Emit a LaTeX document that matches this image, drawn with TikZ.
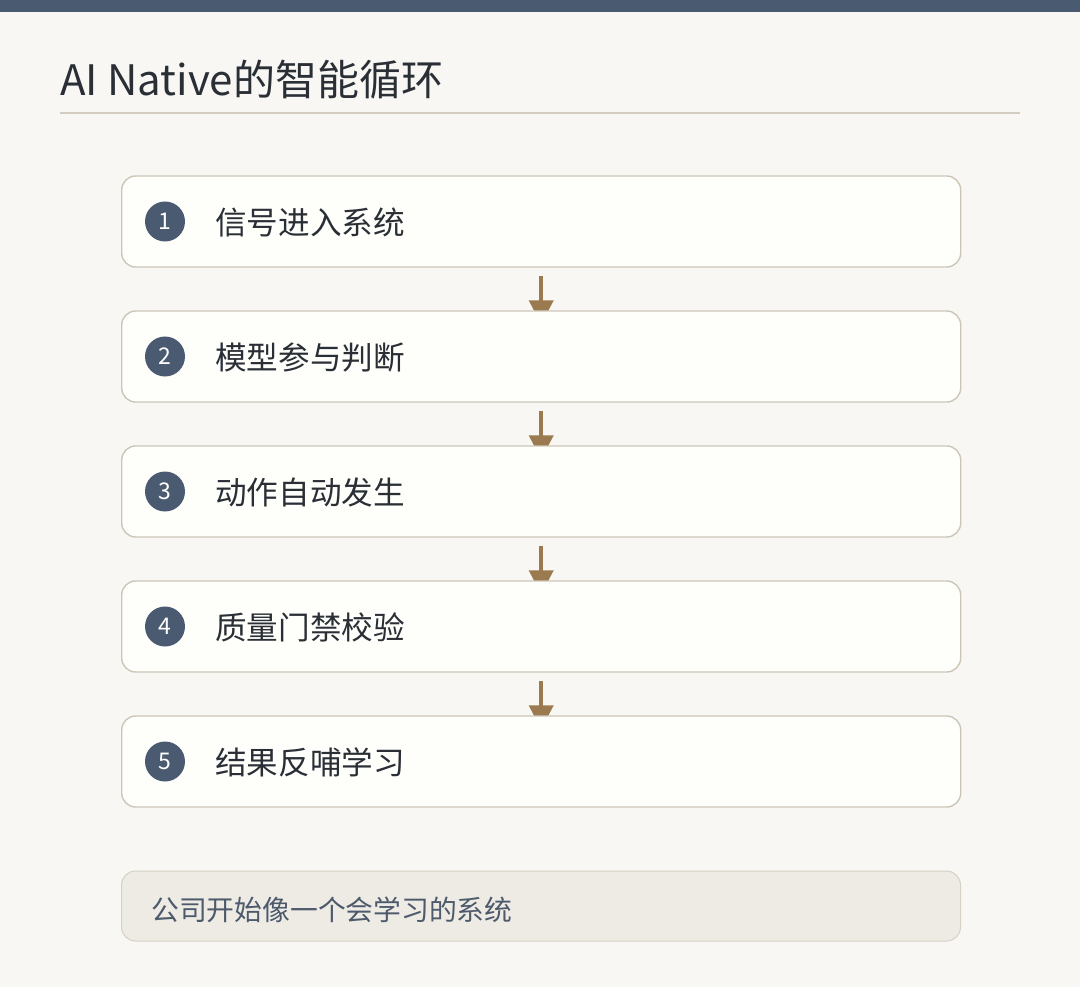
\documentclass[tikz,border=0pt]{standalone}
\usepackage{fontspec}
\setmainfont{Noto Sans CJK SC}
\usetikzlibrary{arrows.meta}
\definecolor{pagebg}{HTML}{F8F7F4}
\definecolor{slate}{HTML}{4A5A70}
\definecolor{rulec}{HTML}{D2CBBF}
\definecolor{boxfill}{HTML}{FEFEFB}
\definecolor{boxline}{HTML}{CDC6B8}
\definecolor{arrowc}{HTML}{9A7A4E}
\definecolor{textc}{HTML}{2A2F36}
\definecolor{notefill}{HTML}{EEEBE4}
\definecolor{noteline}{HTML}{D6D0C5}
\definecolor{notetext}{HTML}{4D5A6C}
\pgfdeclarelayer{bg}
\pgfdeclarelayer{arr}
\pgfsetlayers{bg,arr,main}
\tikzset{
  stepbox/.style={draw=boxline, line width=1.4pt, fill=boxfill, rounded corners=14pt,
    minimum width=839pt, minimum height=91pt, anchor=west, inner sep=0pt},
  numdot/.style={circle, fill=slate, minimum size=40pt, inner sep=0pt,
    text=white, font=\fontsize{23pt}{23pt}\selectfont},
  steptext/.style={anchor=west, inner sep=0pt, text=textc,
    font=\fontsize{31.6pt}{31.6pt}\selectfont},
  flow/.style={draw=arrowc, line width=4pt, shorten <=8pt, shorten >=-14pt,
    -{Triangle[width=24pt,length=24pt]}},
}
\begin{document}
\begin{tikzpicture}[x=1pt,y=-1pt]
\begin{pgfonlayer}{bg}
\fill[pagebg] (0,0) rectangle (1080,987);
\fill[slate] (0,0) rectangle (1080,12);
\end{pgfonlayer}
\useasboundingbox (0,0) rectangle (1080,987);
\node[anchor=base west, inner sep=0pt, text=textc, font=\fontsize{42pt}{42pt}\selectfont] (title) at (60,96) {AI Native的智能循环};
\draw[rulec, line width=2pt] (60,113) -- (1020,113);

\foreach \i/\y/\t in {1/221.5/信号进入系统, 2/356.5/模型参与判断, 3/491.5/动作自动发生, 4/626.5/质量门禁校验, 5/761.5/结果反哺学习}{
  \node[stepbox] (b\i) at (121,\y) {};
  \node[numdot] (c\i) at (165,\y) {\i};
  \node[steptext] (t\i) at (215,\y+1) {\t};
}
\begin{pgfonlayer}{arr}
\foreach \a/\b in {1/2,2/3,3/4,4/5}{
  \draw[flow] (b\a.south) -- (b\b.north);
}
\end{pgfonlayer}

\node[draw=noteline, line width=1pt, fill=notefill, rounded corners=14pt,
  minimum width=839pt, minimum height=70pt, anchor=north west, inner sep=0pt] (note) at (121,870.5) {};
\node[anchor=west, inner sep=0pt, text=notetext, font=\fontsize{27.8pt}{27.8pt}\selectfont] (notetxt) at (151,910) {公司开始像一个会学习的系统};
\end{tikzpicture}
\end{document}
